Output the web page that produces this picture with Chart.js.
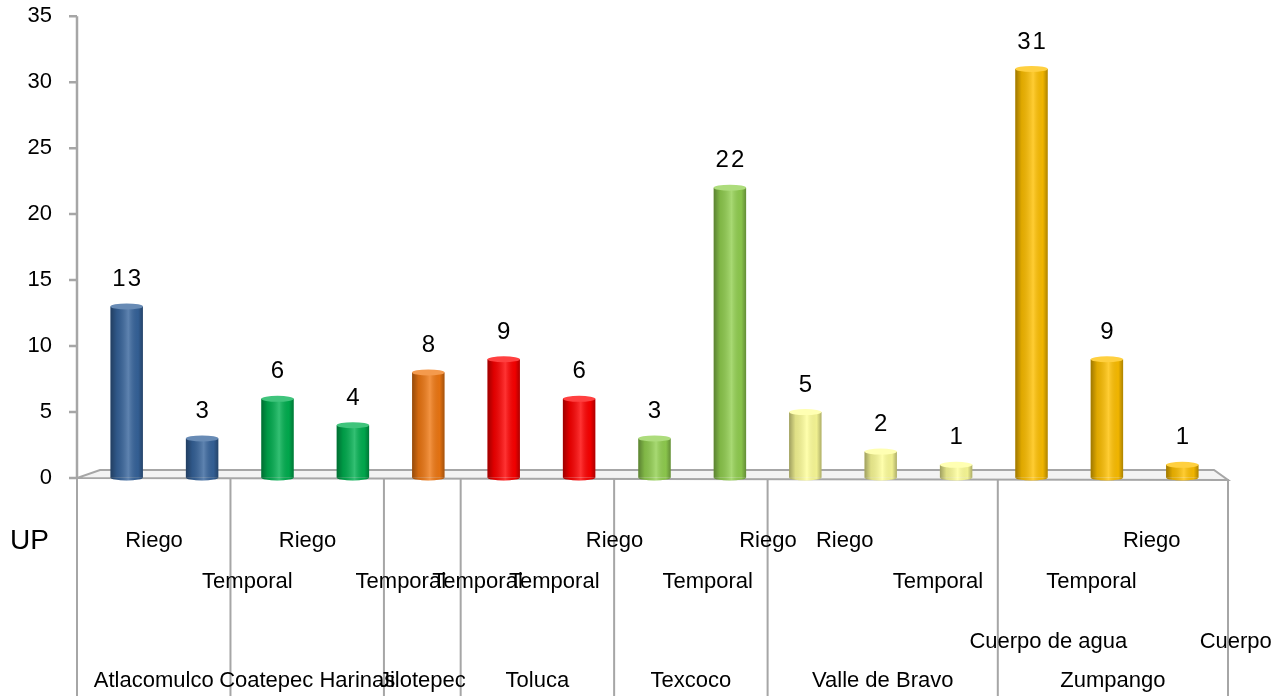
<!DOCTYPE html>
<html>
<head>
<meta charset="utf-8">
<script src="https://cdn.jsdelivr.net/npm/chart.js@4.4.1/dist/chart.umd.min.js"></script>
<style>
  html, body { margin: 0; padding: 0; background: #fff; }
</style>
</head>
<body>
<canvas id="upChart" width="1283" height="696"></canvas>
<script>
// data
const groups = ['Atlacomulco', 'Coatepec Harinas', 'Jilotepec', 'Toluca', 'Texcoco', 'Valle de Bravo', 'Zumpango'];
const groupSizes = [2, 2, 1, 2, 2, 3, 3];
const tipo = ['Riego', 'Temporal', 'Riego', 'Temporal', 'Temporal', 'Temporal', 'Riego', 'Temporal',
  'Riego', 'Riego', 'Temporal', 'Cuerpo de agua', 'Temporal', 'Riego', 'Cuerpo'];
const up = [13, 3, 6, 4, 8, 9, 6, 3, 22, 5, 2, 1, 31, 9, 1];
const groupColors = ['#36649c', '#00b050', '#f07812', '#ff0000', '#92d050', '#ffff99', '#ffc000'];
const yTicks = [0, 5, 10, 15, 20, 25, 30, 35];

const FONT = "'Liberation Sans', Arial, sans-serif";
const rowOf = { 'Riego': 0, 'Temporal': 1, 'Cuerpo de agua': 2, 'Cuerpo': 2 };

// one colour per bar, from its group
const barColors = [];
groupSizes.forEach((n, g) => { for (let k = 0; k < n; k++) barColors.push(groupColors[g]); });

function tint(hex, amt) {
  const n = parseInt(hex.slice(1), 16);
  const mix = c => Math.round(c + (255 - c) * amt);
  return `rgb(${mix(n >> 16)},${mix((n >> 8) & 255)},${mix(n & 255)})`;
}

// front edge of the 3d floor is a bit wider than the back plane
function frontX(ca, bx) {
  const fl = ca.left - 12, fr = ca.right + 8;
  return fl + (bx - ca.left) * (fr - fl) / (ca.right - ca.left);
}

const floorPlugin = {
  id: 'floor',
  beforeDatasetsDraw(chart) {
    const { ctx, chartArea: ca, scales: { x, y } } = chart;
    const fl = ca.left - 12, fr = ca.right + 8;
    ctx.save();
    ctx.strokeStyle = '#a6a6a6';
    ctx.lineWidth = 2;

    // floor
    ctx.beginPath();
    ctx.moveTo(fl, ca.bottom);
    ctx.lineTo(fr, ca.bottom + 2);
    ctx.lineTo(ca.right - 6, ca.bottom - 8);
    ctx.lineTo(ca.left + 11, ca.bottom - 8);
    ctx.closePath();
    ctx.fillStyle = '#f3f3f3';
    ctx.fill();
    ctx.stroke();

    // y axis line and ticks
    ctx.beginPath();
    ctx.lineWidth = 2.5;
    ctx.moveTo(fl, y.getPixelForValue(35));
    ctx.lineTo(fl, ca.bottom);
    yTicks.forEach(v => {
      const py = y.getPixelForValue(v);
      ctx.moveTo(fl - 8, py);
      ctx.lineTo(fl, py);
    });
    ctx.stroke();

    // group separators under the floor
    const slot = x.getPixelForValue(1) - x.getPixelForValue(0);
    ctx.lineWidth = 2;
    ctx.beginPath();
    let idx = 0;
    const bounds = [0];
    groupSizes.forEach(n => { idx += n; bounds.push(idx); });
    bounds.forEach(b => {
      const bx = b === up.length ? ca.right : x.getPixelForValue(b) - slot / 2;
      const fx = b === 0 ? fl : (b === up.length ? fr : frontX(ca, bx));
      ctx.moveTo(fx, ca.bottom + 1);
      ctx.lineTo(fx, chart.height);
    });
    ctx.stroke();

    // labels below the axis
    ctx.fillStyle = '#000';
    ctx.font = `22px ${FONT}`;
    ctx.textBaseline = 'middle';
    const rows = [63, 104, 164];
    ctx.textAlign = 'left';
    tipo.forEach((t, i) => {
      const fx = frontX(ca, x.getPixelForValue(i)) + 10;
      ctx.fillText(t, fx, ca.bottom + rows[rowOf[t]]);
    });
    ctx.textAlign = 'center';
    idx = 0;
    groups.forEach((g, k) => {
      const mid = idx + (groupSizes[k] - 1) / 2;
      idx += groupSizes[k];
      ctx.fillText(g, frontX(ca, x.getPixelForValue(mid)), ca.bottom + 203);
    });

    ctx.font = `28px ${FONT}`;
    ctx.textAlign = 'left';
    ctx.fillText('UP', 10, ca.bottom + 63);
    ctx.restore();
  },
  afterDatasetsDraw(chart) {
    const { ctx } = chart;
    const meta = chart.getDatasetMeta(0);
    ctx.save();
    meta.data.forEach((bar, i) => {
      const { x, y, base, width } = bar.getProps(['x', 'y', 'base', 'width'], true);
      const l = x - width / 2, r = x + width / 2, ry = 3;
      const col = barColors[i];

      const g = ctx.createLinearGradient(l, 0, r, 0);
      g.addColorStop(0, 'rgba(0,0,0,0.38)');
      g.addColorStop(0.2, 'rgba(0,0,0,0.12)');
      g.addColorStop(0.55, 'rgba(255,255,255,0.2)');
      g.addColorStop(0.85, 'rgba(0,0,0,0.06)');
      g.addColorStop(1, 'rgba(0,0,0,0.32)');

      // bottom rounding
      ctx.beginPath();
      ctx.ellipse(x, base, width / 2, ry, 0, 0, Math.PI);
      ctx.fillStyle = col;
      ctx.fill();
      ctx.fillStyle = g;
      ctx.fill();
      ctx.fillRect(l, y, width, base - y);

      // top cap
      ctx.beginPath();
      ctx.ellipse(x, y, width / 2, ry, 0, 0, Math.PI * 2);
      ctx.fillStyle = tint(col, 0.25);
      ctx.fill();

      // value label
      ctx.fillStyle = '#000';
      ctx.font = `24px ${FONT}`;
      ctx.letterSpacing = '2px';
      ctx.textAlign = 'center';
      ctx.textBaseline = 'middle';
      ctx.fillText(String(up[i]), x + 1, y - 27);
    });
    ctx.restore();
  }
};

const ctx = document.getElementById('upChart').getContext('2d');
new Chart(ctx, {
  type: 'bar',
  data: {
    labels: tipo,
    datasets: [{
      data: up,
      backgroundColor: barColors,
      borderWidth: 0,
      barPercentage: 0.43,
      categoryPercentage: 1
    }]
  },
  options: {
    responsive: false,
    animation: false,
    layout: { padding: { top: 16, right: 63, bottom: 218, left: 0 } },
    plugins: {
      legend: { display: false },
      title: { display: false },
      tooltip: { enabled: false }
    },
    scales: {
      x: { display: false },
      y: {
        min: 0,
        max: 35,
        afterBuildTicks: s => { s.ticks = yTicks.map(v => ({ value: v })); },
        afterFit: s => { s.width = 89; },
        // invisible tick marks only push the labels out to where the reference has them
        grid: { color: 'transparent', drawOnChartArea: false, drawTicks: true, tickLength: 34 },
        border: { display: false },
        ticks: { color: '#000', padding: 3, font: { family: FONT, size: 22 } }
      }
    }
  },
  plugins: [floorPlugin]
});
</script>
</body>
</html>
